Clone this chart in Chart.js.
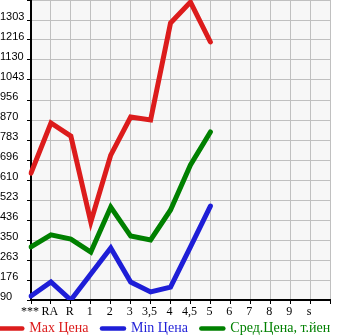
<!DOCTYPE html>
<html>
<head>
<meta charset="utf-8">
<script src="https://cdn.jsdelivr.net/npm/chart.js@4.4.0/dist/chart.umd.min.js"></script>
<style>
  html, body { margin: 0; padding: 0; background: #fff; }
  #wrap { width: 345px; height: 335px; }
</style>
</head>
<body>
<div id="wrap"><canvas id="myChart" width="345" height="335"></canvas></div>
<script>
const labels = ['***', 'RA', 'R', '1', '2', '3', '3,5', '4', '4,5', '5', '6', '7', '8', '9', 's', ''];

const maxPrice = [640, 857, 800, 428, 718, 883, 870, 1290, 1381, 1208, null, null, null, null, null, null];
const minPrice = [107, 168, 90, 203, 315, 168, 125, 146, 320, 497, null, null, null, null, null, null];
const avgPrice = [320, 372, 354, 298, 493, 367, 350, 480, 675, 818, null, null, null, null, null, null];

const yTicks = [90, 176, 263, 350, 436, 523, 610, 696, 783, 870, 956, 1043, 1130, 1216, 1303];

// grey plot background + nudge the legend to the left edge / up a bit
const plotBg = {
  id: 'plotBg',
  afterLayout(chart) {
    const lg = chart.legend;
    lg.left -= 13.2;
    lg.right = chart.width + 40; // keep all three items on one row
    lg.top -= 12;
  },
  beforeDraw(chart) {
    const a = chart.chartArea;
    const ctx = chart.ctx;
    ctx.save();
    ctx.fillStyle = '#f7f7f7';
    ctx.fillRect(a.left, a.top, a.right - a.left, a.bottom - a.top);
    ctx.restore();
  }
};

function line(label, data, color) {
  return {
    label: label,
    data: data,
    borderColor: color,
    backgroundColor: color,
    borderWidth: 5,
    borderCapStyle: 'round',
    borderJoinStyle: 'miter',
    pointRadius: 0,
    tension: 0,
    spanGaps: false
  };
}

const data = {
  labels: labels,
  datasets: [
    line('Max Цена', maxPrice, 'rgb(220, 28, 28)'),
    line('Min Цена', minPrice, 'rgb(30, 30, 215)'),
    line('Сред.Цена, т.йен', avgPrice, 'rgb(0, 128, 0)')
  ]
};

const config = {
  type: 'line',
  data: data,
  options: {
    responsive: false,
    animation: false,
    layout: {
      padding: { top: 0, right: 15, left: 0, bottom: 0 }
    },
    plugins: {
      tooltip: { enabled: false },
      legend: {
        position: 'bottom',
        align: 'start',
        maxHeight: 15,
        labels: {
          usePointStyle: true,
          pointStyle: 'line',
          pointStyleWidth: 22,
          boxWidth: 22,
          boxHeight: 13,
          padding: 13.5,
          font: { family: 'Liberation Serif', size: 14 },
          generateLabels(chart) {
            return chart.data.datasets.map(function(ds, i) {
              return {
                text: ds.label,
                fillStyle: ds.borderColor,
                strokeStyle: ds.borderColor,
                fontColor: ds.borderColor,
                lineWidth: 4.5,
                lineCap: 'round',
                pointStyle: 'line',
                hidden: false,
                datasetIndex: i
              };
            });
          }
        }
      }
    },
    scales: {
      x: {
        offset: false,
        afterFit(scale) { scale.height = 20; },
        grid: { color: '#c0c0c0', tickColor: '#000', tickLength: 4, lineWidth: 1 },
        border: { color: '#000', width: 2 },
        ticks: {
          color: '#000',
          autoSkip: false,
          maxRotation: 0,
          padding: 1,
          labelOffset: -1,
          font: { family: 'Liberation Serif', size: 12 }
        }
      },
      y: {
        min: 90,
        max: 1390,
        afterBuildTicks(scale) {
          const t = [];
          for (let i = 0; i <= 15; i++) t.push({ value: 90 + i * 1300 / 15 });
          scale.ticks = t;
        },
        afterFit(scale) { scale.width = 31; scale.paddingTop = 0; },
        grid: { color: '#c0c0c0', tickColor: '#000', tickLength: 4, lineWidth: 1 },
        border: { color: '#000', width: 2 },
        ticks: {
          color: '#000',
          crossAlign: 'far',
          labelOffset: -3,
          padding: 2,
          font: { family: 'Liberation Sans', size: 11 },
          callback: function(value, index) {
            return index < yTicks.length ? String(yTicks[index]) : '';
          }
        }
      }
    }
  },
  plugins: [plotBg]
};

const myChart = new Chart(document.getElementById('myChart'), config);
</script>
</body>
</html>
